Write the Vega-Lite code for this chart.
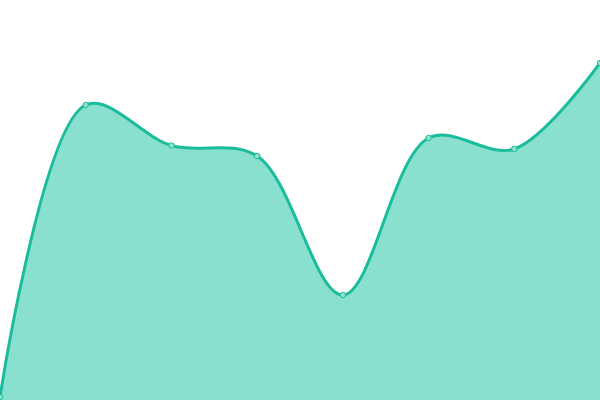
{
  "$schema": "https://vega.github.io/schema/vega-lite/v6.json",
  "width": 600,
  "height": 400,
  "autosize": {"type": "none"},
  "padding": 0,
  "background": "white",
  "config": {"view": {"stroke": null}},
  "data": {"values": [
    {"i": 0, "v": 3},
    {"i": 1, "v": 295},
    {"i": 2, "v": 254.5},
    {"i": 3, "v": 244},
    {"i": 4, "v": 105},
    {"i": 5, "v": 262},
    {"i": 6, "v": 251},
    {"i": 7, "v": 337}
  ]},
  "encoding": {
    "x": {"field": "i", "type": "quantitative", "scale": {"domain": [0, 7], "nice": false, "zero": false}, "axis": null},
    "y": {"field": "v", "type": "quantitative", "scale": {"domain": [0, 400], "nice": false}, "axis": null}
  },
  "layer": [
    {"mark": {"type": "area", "interpolate": "catmull-rom", "color": "#89e0ce", "opacity": 1}},
    {"mark": {"type": "line", "interpolate": "catmull-rom", "color": "#1abc9c", "strokeWidth": 3}},
    {"mark": {"type": "point", "filled": true, "size": 30, "fill": "#8fe2d1", "stroke": "#1abc9c", "strokeWidth": 1, "opacity": 1}}
  ]
}
